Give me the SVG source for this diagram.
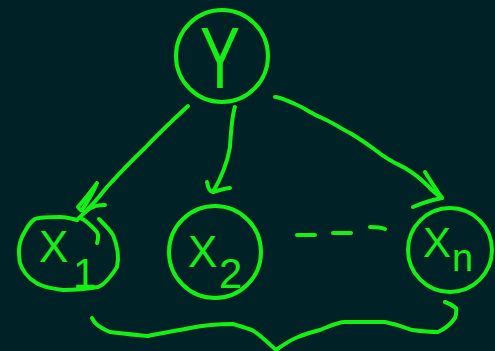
<svg xmlns="http://www.w3.org/2000/svg" width="495" height="351" viewBox="0 0 495 351">
<style>
.s{fill:none;stroke:#14f014;stroke-width:4;stroke-linecap:round;stroke-linejoin:round}
.t{fill:#14f014;font-family:"Liberation Sans",Arial,sans-serif}
</style>
<rect width="495" height="351" fill="#002226"/>
<g id="node-Y">
<circle class="s" cx="222" cy="56" r="46"/>
<text class="t" x="200" y="88" font-size="88" textLength="40" lengthAdjust="spacingAndGlyphs">Y</text>
</g>
<g id="node-X1">
<path class="s" d="M77,220 C70,218 64,217 60,217 C50,217 40,217 35,219 C30,222 27,227 22,237 C19,244 18,250 20,263 C22,270 28,278 35,282 C40,286 47,288 63,290 C75,290 87,289 98,287 C104,285 110,278 117,267 C119,258 118,247 113,235 C110,230 107,227 99,219"/>
<path class="s" d="M80,218 C84,219 88,222 97,232 C99,236 98,240 97,243"/>
<text class="t" x="39" y="262" font-size="44">X<tspan x="73" y="288" font-size="42">1</tspan></text>
</g>
<g id="node-X2">
<circle class="s" cx="215" cy="252" r="46"/>
<text class="t" x="188" y="267" font-size="44">X<tspan x="219" y="288" font-size="42">2</tspan></text>
</g>
<g id="node-Xn">
<circle class="s" cx="450" cy="250" r="42"/>
<text class="t" x="423" y="257" font-size="42">X<tspan x="452" y="271" font-size="38">n</tspan></text>
</g>
<g id="connectors">
<path class="s" d="M188,106 C175,118 160,132 145,148 C130,162 118,175 107,187 C100,196 93,205 77,220"/>
<path class="s" d="M97,183 C94,187 90,193 78,207 C80,210 82,211 82,210 C88,201 93,193 97,183 M85,212 C93,205 100,205 105,205"/>
<path class="s" d="M235,107 C232,115 231,130 230,147 C227,165 220,180 213,192"/>
<path class="s" d="M207,182 C208,188 210,192 213,192 C220,190 226,188 230,188"/>
<path class="s" d="M275,97 C280,97 285,100 295,104 C305,108 310,113 322,118 C332,122 340,128 350,133 C362,140 370,146 378,152 C388,160 395,163 405,168 C415,174 420,178 428,186 C433,192 438,195 442,198"/>
<path class="s" d="M425,172 C430,180 435,188 442,198 C432,200 422,203 413,207"/>
<path class="s" d="M297,235 L315,235 M333,233 L351,233 M370,227 C375,227 380,227 385,229"/>
<path class="s" d="M92,318 C94,322 96,326 110,332 C125,334 138,335 148,336 C160,333 175,331 190,328 C205,325 220,324 233,324 C240,326 246,328 252,330 C258,333 265,340 276,350 C283,345 290,340 298,337 C305,334 312,332 320,330 C330,326 338,322 345,322 C360,322 372,322 385,322 C395,324 402,326 412,330 C420,331 428,332 438,332 C445,329 450,325 455,318 C457,312 456,308 456,308 C452,305 448,303 445,302"/>
</g>
</svg>
